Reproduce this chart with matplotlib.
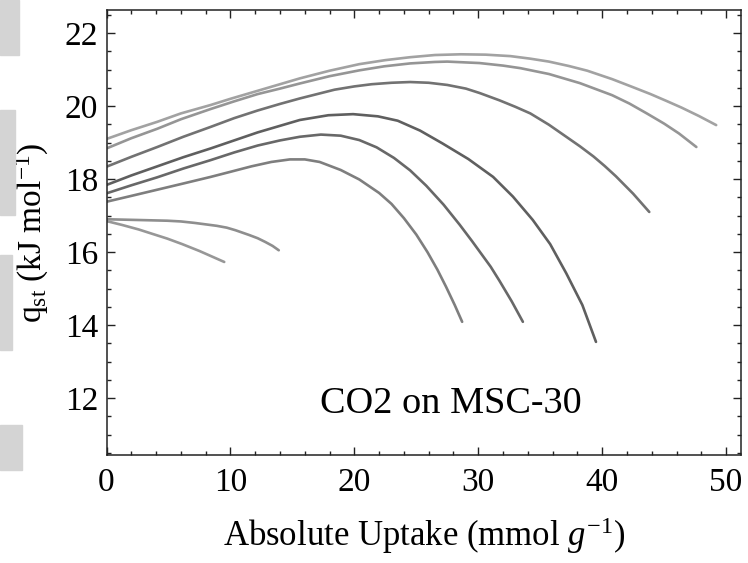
import matplotlib.pyplot as plt
import matplotlib.patches as mpatches

plt.rcParams['font.family'] = ['Liberation Serif', 'DejaVu Serif']
plt.rcParams['mathtext.fontset'] = 'custom'
plt.rcParams['mathtext.rm'] = 'Liberation Serif'
plt.rcParams['mathtext.it'] = 'Liberation Serif:italic'

# isosteric heat curves, top (lightest) to bottom
x1 = [0, 2, 4.1, 6, 8.4, 10, 12.2, 14, 15.6, 18, 20.4, 22.5, 24.5, 26.5, 28.6, 30.6, 32.6,
      34.2, 35.7, 37.3, 38.8, 40.8, 42.4, 43.9, 45.2, 46.4, 47.8, 49.2]
y1 = [19.10, 19.34, 19.57, 19.80, 20.03, 20.20, 20.42, 20.60, 20.76, 20.97, 21.15, 21.26, 21.34,
      21.40, 21.42, 21.41, 21.37, 21.30, 21.22, 21.10, 20.97, 20.74, 20.53, 20.33, 20.14, 19.96,
      19.73, 19.48]

x2 = [0, 2, 4.1, 6, 8.4, 10.3, 12.2, 14, 15.6, 18, 20.4, 22.4, 24.5, 26.5, 27.5, 30.1, 32,
      33.4, 35.7, 38.2, 40.8, 42.2, 43.6, 45, 46.2, 47.6]
y2 = [18.84, 19.12, 19.38, 19.64, 19.92, 20.13, 20.33, 20.48, 20.62, 20.82, 20.98, 21.09, 21.17,
      21.21, 21.22, 21.18, 21.11, 21.04, 20.88, 20.63, 20.30, 20.07, 19.80, 19.52, 19.25, 18.88]

x3 = [0, 2, 4.1, 6.2, 8.4, 10.3, 12.2, 14, 15.6, 18.4, 20, 21.4, 23, 24.5, 26, 27.5, 29, 30.1,
      31.7, 33, 34.2, 35.7, 37.1, 38.2, 39.3, 40.2, 41.1, 42.5, 43.8]
y3 = [18.34, 18.61, 18.88, 19.16, 19.43, 19.67, 19.88, 20.06, 20.21, 20.45, 20.54, 20.60, 20.64,
      20.66, 20.64, 20.58, 20.48, 20.36, 20.16, 19.98, 19.80, 19.49, 19.16, 18.90, 18.62, 18.36,
      18.08, 17.60, 17.10]

x4 = [0, 2, 4.1, 6.2, 8.4, 10.3, 12.2, 14, 15.6, 17.9, 19.9, 21.9, 23.5, 25.3, 27.1, 29.2,
      31.2, 32.8, 34.4, 35.8, 37.1, 38.4, 39.5]
y4 = [17.84, 18.10, 18.35, 18.60, 18.84, 19.06, 19.28, 19.46, 19.62, 19.75, 19.78, 19.72, 19.60,
      19.33, 18.98, 18.55, 18.06, 17.52, 16.88, 16.22, 15.42, 14.55, 13.54]

x5 = [0, 2, 4.1, 6.2, 8.4, 10.3, 12.2, 14, 15.6, 17.3, 18.9, 20.4, 21.8, 23.2, 24.5, 25.8,
      27.2, 28.5, 29.5, 30.1, 31.0, 31.7, 32.7, 33.6]
y5 = [17.61, 17.83, 18.05, 18.29, 18.52, 18.73, 18.92, 19.06, 19.16, 19.22, 19.19, 19.07, 18.87,
      18.58, 18.24, 17.82, 17.30, 16.75, 16.30, 16.02, 15.60, 15.22, 14.65, 14.09]

x6 = [0, 2, 4.1, 6.2, 8.4, 10, 11.7, 13.3, 14.8, 16, 17.2, 18.9, 20.4, 22.0, 23.0, 24.0, 25.0,
      25.9, 26.7, 27.4, 28.1, 28.7]
y6 = [17.38, 17.54, 17.71, 17.88, 18.06, 18.20, 18.35, 18.47, 18.54, 18.54, 18.47, 18.25, 17.99,
      17.62, 17.32, 16.93, 16.48, 16.00, 15.52, 15.05, 14.55, 14.09]

x7 = [0, 2.5, 4.9, 6, 7.1, 8.9, 9.7, 10.4, 11.5, 12.2, 12.8, 13.4, 13.9]
y7 = [16.90, 16.88, 16.86, 16.84, 16.80, 16.72, 16.67, 16.60, 16.47, 16.38, 16.28, 16.17, 16.05]

x8 = [0, 1.3, 2.6, 3.7, 4.9, 6.1, 7.5, 8.5, 9.5]
y8 = [16.85, 16.74, 16.62, 16.50, 16.37, 16.22, 16.03, 15.88, 15.73]

curves = [(x1, y1), (x2, y2), (x3, y3), (x4, y4), (x5, y5), (x6, y6), (x7, y7), (x8, y8)]
greys = ['#a2a2a2', '#959595', '#727272', '#5f5f5f', '#686868', '#7e7e7e', '#8e8e8e', '#979797']

fig = plt.figure(figsize=(7.48, 5.63), dpi=100)
ax = fig.add_axes([0.1424, 0.1918, 0.8482, 0.7902])

for (xs, ys), c in zip(curves, greys):
    ax.plot(xs, ys, color=c, lw=1.9, solid_capstyle='round', solid_joinstyle='round')

ax.set_xlim(0, 51.2)
ax.set_ylim(10.44, 22.63)
ax.set_xticks([0, 10, 20, 30, 40, 50])
ax.set_xticks([i for i in range(0, 52, 2)], minor=True)
ax.set_yticks([12, 14, 16, 18, 20, 22])
ax.set_yticks([10.5 + 0.5 * i for i in range(25)], minor=True)

ax.tick_params(which='both', direction='in', top=True, right=True, width=1.0, color='#222222')
ax.tick_params(which='major', length=6)
ax.tick_params(which='minor', length=3)
ax.tick_params(axis='x', labelsize=24, pad=9)
ax.tick_params(axis='y', labelsize=24, pad=6)
for s in ax.spines.values():
    s.set_linewidth(1.1)
    s.set_color('#222222')

ax.set_xlabel('Absolute Uptake (mmol $g^{-1}$)', fontsize=25)
ax.set_ylabel(r'q$_{\mathrm{st}}$ (kJ mol$^{-1}$)', fontsize=24)
ax.xaxis.set_label_coords(0.5, -0.135)
ax.yaxis.set_label_coords(-0.087, 0.5)

ax.text(27.8, 11.59, 'CO2 on MSC-30', fontsize=27.5, ha='center', va='baseline')

# faint slide-background shapes cut off at the left edge
for (yb, w, h) in [(0.902, 0.026, 0.098), (0.618, 0.02, 0.187), (0.378, 0.016, 0.169), (0.165, 0.03, 0.08)]:
    fig.patches.append(mpatches.Rectangle((0, yb), w, h, transform=fig.transFigure,
                                          color='#d4d4d4', zorder=0))

fig.savefig('out.png', dpi=100)
